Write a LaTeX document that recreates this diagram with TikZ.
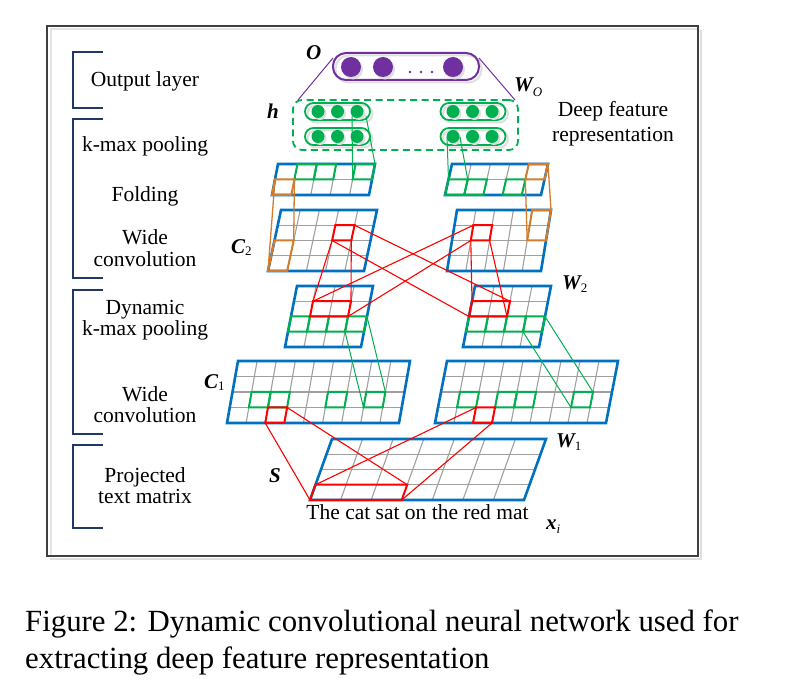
\documentclass[tikz,border=0pt]{standalone}
\usepackage{fontspec}
\setmainfont{Liberation Serif}
\usetikzlibrary{calc}
\definecolor{gblue}{RGB}{0,112,192}
\definecolor{ggreen}{RGB}{0,176,80}
\definecolor{gred}{RGB}{255,0,0}
\definecolor{gorange}{RGB}{210,125,45}
\definecolor{gpurple}{RGB}{112,48,160}
\definecolor{gnavy}{RGB}{31,56,100}
\definecolor{ggray}{RGB}{160,160,160}
\newcommand{\symf}{\fontsize{21}{21}\selectfont\bfseries\itshape}
\newcommand{\subf}{\fontsize{13}{13}\selectfont\mdseries\upshape}
\newcommand{\dgrid}[2]{%
  \pgfmathtruncatemacro{\dgcols}{#1-1}%
  \pgfmathtruncatemacro{\dgrows}{#2-1}%
  \foreach \i in {1,...,\dgcols}{\draw[gridln] (\i,0) -- (\i,#2);}%
  \foreach \j in {1,...,\dgrows}{\draw[gridln] (0,\j) -- (#1,\j);}%
  \draw[gborder] (0,0) -- (#1,0) -- (#1,#2) -- (0,#2) -- cycle;%
}
\newcommand{\qcell}[5]{\draw[#1] (#2,#3) -- (#4,#3) -- (#4,#5) -- (#2,#5) -- cycle;}
\tikzset{
 gridln/.style={ggray, line width=1.1pt},
 gborder/.style={gblue, line width=2.6pt},
 gcell/.style={ggreen, line width=2pt},
 rcell/.style={gred, line width=2pt},
 ocell/.style={gorange, line width=2pt},
 gconn/.style={ggreen, line width=1pt},
 rconn/.style={gred, line width=1.1pt},
 oconn/.style={gorange, line width=1.3pt},
 pconn/.style={gpurple, line width=1pt},
 bracket/.style={gnavy, line width=2pt},
 lbl/.style={font=\fontsize{21.5}{21}\selectfont, inner sep=0pt, anchor=base},
 sym/.style={inner sep=0pt, anchor=base west},
 pill/.style={draw=ggreen, line width=1.8pt, inner sep=0pt, minimum width=65pt, minimum height=17pt, rounded corners=8.5pt},
 pshadow/.style={draw=gray!25, line width=2pt, inner sep=0pt, minimum width=65pt, minimum height=17pt, rounded corners=8.5pt},
 gdot/.style={circle, fill=ggreen, inner sep=0pt, minimum size=13pt},
 sdot/.style={circle, fill=gray!25, inner sep=0pt, minimum size=13pt},
 pdot/.style={circle, fill=gpurple, inner sep=0pt, minimum size=20pt},
 capt/.style={font=\fontsize{30.8}{36}\selectfont, inner sep=0pt, anchor=base west},
}
\begin{document}
\begin{tikzpicture}[x=1pt,y=-1pt]
\useasboundingbox (0,0) rectangle (788,692);
\fill[white] (0,0) rectangle (788,692);
% frame
\draw[gray!22, line width=2pt] (50.5,555) -- (50.5,29.5) -- (697,29.5);
\draw[gray!25, line width=2pt] (50,559) -- (701,559) -- (701,30);
\draw[black!75, line width=2pt] (47,26) rectangle (698,556);
% brackets
\draw[bracket] (103,52) -- (72.5,52) -- (72.5,108) -- (103,108);
\draw[bracket] (103,119) -- (72.5,119) -- (72.5,278) -- (103,278);
\draw[bracket] (103,290) -- (72.5,290) -- (72.5,434) -- (103,434);
\draw[bracket] (103,445) -- (72.5,445) -- (72.5,528) -- (103,528);
% left labels
\node[lbl] (t1) at (145,87) {Output layer};
\node[lbl] (t2) at (145,152) {k-max pooling};
\node[lbl] (t3) at (145,202) {Folding};
\node[lbl] (t4a) at (145,245) {Wide};
\node[lbl] (t4b) at (145,267) {convolution};
\node[lbl] (t5a) at (145,315) {Dynamic};
\node[lbl] (t5b) at (145,336) {k-max pooling};
\node[lbl] (t6a) at (145,402) {Wide};
\node[lbl] (t6b) at (145,423) {convolution};
\node[lbl] (t7a) at (145,483) {Projected};
\node[lbl] (t7b) at (145,504) {text matrix};
\node[lbl] (t8a) at (613,117) {Deep feature};
\node[lbl] (t8b) at (613,142) {representation};
\node[lbl] (t9) at (417.5,520) {The cat sat on the red mat};
% symbols
\node[sym] (sO) at (306,60) {\symf O};
\node[sym] (sh) at (267,119) {\symf h};
\node[sym] (sWO) at (514,92) {\symf W\raisebox{-5pt}{\subf\itshape O}};
\node[sym] (sC2) at (231,254) {\symf C\raisebox{-2pt}{\subf 2}};
\node[sym] (sW2) at (562,290) {\symf W\raisebox{-3pt}{\subf 2}};
\node[sym] (sC1) at (204,389) {\symf C\raisebox{-2pt}{\subf 1}};
\node[sym] (sW1) at (556,448) {\symf W\raisebox{-3pt}{\subf 1}};
\node[sym] (sS) at (269,483) {\symf S};
\node[sym] (sx) at (546,530) {\symf x\raisebox{-4pt}{\subf\itshape i}};
% caption
\node[capt] (cap1) at (25,632) {Figure 2: Dynamic convolutional neural network used for};
\node[capt] (cap2) at (25,668) {extracting deep feature representation};

% ---- output layer
\draw[gray!25, line width=2pt, rounded corners=13pt] (335.5,55.5) rectangle (481.5,82.5);
\node[draw=gpurple, line width=2pt, rounded corners=13pt, minimum width=146pt, minimum height=27pt, inner sep=0pt] (opill) at (406,66.5) {};
\foreach \xx/\nm in {351/o1,383/o2,453/o3}{
  \node[circle, fill=gray!25, inner sep=0pt, minimum size=20pt] at (\xx+2,69.5) {};
  \node[pdot] (\nm) at (\xx,67) {};
}
\foreach \xx in {410,421,432}{\fill[gpurple] (\xx,72) circle (1.3pt);}
% ---- h layer
\node[draw=ggreen, dash pattern=on 7pt off 4.5pt, line width=1.8pt, rounded corners=9pt, minimum width=225pt, minimum height=50pt, inner sep=0pt] (hbox) at (405.5,125) {};
\foreach \cx/\cy/\nm in {337.5/111.5/hUL,337.5/136.5/hLL,473/111.5/hUR,473/136.5/hLR}{
  \node[pshadow] at (\cx+2.5,\cy+2.5) {};
  \node[pill] (\nm) at (\cx,\cy) {};
}
\foreach \xx/\yy in {318/111.5,337.5/111.5,357/111.5,318/136.5,337.5/136.5,357/136.5,453/111.5,472.5/111.5,492/111.5,453/136.5,472.5/136.5,492/136.5}{
  \node[sdot] at (\xx+2,\yy+2) {};
  \node[gdot] at (\xx,\yy) {};
}
\coordinate (oL) at (333,58);
\coordinate (oR) at (479,58);
\coordinate (hTL) at (298,100);
\coordinate (hTR) at (515,100);
\draw[pconn] (oL) -- (hTL);
\draw[pconn] (oR) -- (hTR);
\coordinate (hl1) at (352,116);
\coordinate (hl2) at (366,116);
\coordinate (hr1) at (447,137);
\coordinate (hr2) at (460,137);

% ---- grids
% S
\begin{scope}[shift={(332,439)}, x={(30.57pt,0pt)}, y={(-5.5pt,-15.25pt)}]
  \dgrid{7}{4}
  \qcell{rcell}{0}{3}{3}{4}
  \coordinate (S-tl) at (0,3); \coordinate (S-tr) at (3,3);
  \coordinate (S-bl) at (0,4); \coordinate (S-br) at (3,4);
\end{scope}
% C1 left
\begin{scope}[shift={(238,361)}, x={(19.11pt,0pt)}, y={(-2.75pt,-15.5pt)}]
  \dgrid{9}{4}
  \foreach \c in {1,2,5,7}{\qcell{gcell}{\c}{2}{\c+1}{3}}
  \qcell{rcell}{2}{3}{3}{4}
  \coordinate (C1L-rbl) at (2,4); \coordinate (C1L-rtr) at (3,3);
  \coordinate (C1L-gbl) at (7,3); \coordinate (C1L-gtr) at (8,2);
\end{scope}
% C1 right
\begin{scope}[shift={(447,361)}, x={(19pt,0pt)}, y={(-3pt,-15.5pt)}]
  \dgrid{9}{4}
  \foreach \c in {1,3,4,7}{\qcell{gcell}{\c}{2}{\c+1}{3}}
  \qcell{rcell}{2}{3}{3}{4}
  \coordinate (C1R-rtl) at (2,3); \coordinate (C1R-rbr) at (3,4);
  \coordinate (C1R-gbl) at (7,3); \coordinate (C1R-gtr) at (8,2);
\end{scope}
% pooled left
\begin{scope}[shift={(297,286)}, x={(19pt,0pt)}, y={(-3pt,-15.25pt)}]
  \dgrid{4}{4}
  \foreach \c in {0,1,2,3}{\qcell{gcell}{\c}{2}{\c+1}{3}}
  \qcell{rcell}{1}{1}{3}{2}
  \coordinate (PL-tl) at (1,1); \coordinate (PL-tr) at (3,1);
  \coordinate (PL-br) at (3,2);
  \coordinate (PL-gbl) at (3,3); \coordinate (PL-gtr) at (4,2);
\end{scope}
% pooled right
\begin{scope}[shift={(475,286)}, x={(19pt,0pt)}, y={(-3pt,-15.25pt)}]
  \dgrid{4}{4}
  \foreach \c in {0,1,2,3}{\qcell{gcell}{\c}{2}{\c+1}{3}}
  \qcell{rcell}{0}{1}{2}{2}
  \coordinate (PR-tl) at (0,1); \coordinate (PR-tr) at (2,1);
  \coordinate (PR-bl) at (0,2); \coordinate (PR-br) at (2,2);
  \coordinate (PR-gbl) at (3,3); \coordinate (PR-gtr) at (4,2);
\end{scope}
% C2 left
\begin{scope}[shift={(281,210)}, x={(19.2pt,0pt)}, y={(-3.25pt,-15.25pt)}]
  \dgrid{5}{4}
  \qcell{rcell}{3}{1}{4}{2}
  \qcell{ocell}{0}{2}{1}{4}
  \coordinate (C2L-bl) at (3,2); \coordinate (C2L-br) at (4,2);
  \coordinate (C2L-tr) at (4,1);
  \coordinate (C2L-obl) at (0,4); \coordinate (C2L-otr) at (1,2);
\end{scope}
% C2 right
\begin{scope}[shift={(457,210)}, x={(18.8pt,0pt)}, y={(-2.5pt,-15.25pt)}]
  \dgrid{5}{4}
  \qcell{rcell}{1}{1}{2}{2}
  \qcell{ocell}{4}{0}{5}{2}
  \coordinate (C2R-tl) at (1,1); \coordinate (C2R-bl) at (1,2);
  \coordinate (C2R-br) at (2,2);
  \coordinate (C2R-obl) at (4,2); \coordinate (C2R-otr) at (5,0);
\end{scope}
% folding left
\begin{scope}[shift={(278,164)}, x={(19.4pt,0pt)}, y={(-3pt,-15.5pt)}]
  \dgrid{5}{2}
  \foreach \c in {1,2,4}{\qcell{gcell}{\c}{0}{\c+1}{1}}
  \qcell{ocell}{0}{1}{1}{2}
  \coordinate (FL-otl) at (0,1); \coordinate (FL-otr) at (1,1);
  \coordinate (FL-gbl) at (4,1); \coordinate (FL-gtr) at (5,0);
\end{scope}
% folding right
\begin{scope}[shift={(452,164)}, x={(19.2pt,0pt)}, y={(-3.5pt,-15.5pt)}]
  \dgrid{5}{2}
  \foreach \c in {0,1,3}{\qcell{gcell}{\c}{1}{\c+1}{2}}
  \qcell{ocell}{4}{0}{5}{1}
  \coordinate (FR-obl) at (4,1); \coordinate (FR-otr) at (5,0);
  \coordinate (FR-g0) at (0,1); \coordinate (FR-g1) at (1,1);
\end{scope}

% ---- connectors
\draw[gconn] (hl1) -- (FL-gbl);
\draw[gconn] (hl2) -- (FL-gtr);
\draw[gconn] (hr1) -- (FR-g0);
\draw[gconn] (hr2) -- (FR-g1);
\draw[oconn] (FL-otl) -- (C2L-obl);
\draw[oconn] (FL-otr) -- (C2L-otr);
\draw[oconn] (FR-obl) -- (C2R-obl);
\draw[oconn] (FR-otr) -- (C2R-otr);
\draw[rconn] (C2L-bl) -- (PL-tl);
\draw[rconn] (C2L-br) -- (PL-tr);
\draw[rconn] (C2L-bl) -- (PR-bl);
\draw[rconn] (C2L-tr) -- (PR-tr);
\draw[rconn] (C2R-tl) -- (PL-tl);
\draw[rconn] (C2R-bl) -- (PL-br);
\draw[rconn] (C2R-bl) -- (PR-tl);
\draw[rconn] (C2R-br) -- (PR-br);
\draw[gconn] (PL-gbl) -- (C1L-gbl);
\draw[gconn] (PL-gtr) -- (C1L-gtr);
\draw[gconn] (PR-gbl) -- (C1R-gbl);
\draw[gconn] (PR-gtr) -- (C1R-gtr);
\draw[rconn] (C1L-rbl) -- (S-bl);
\draw[rconn] (C1L-rtr) -- (S-tr);
\draw[rconn] (C1R-rtl) -- (S-tl);
\draw[rconn] (C1R-rbr) -- (S-br);
\end{tikzpicture}
\end{document}
